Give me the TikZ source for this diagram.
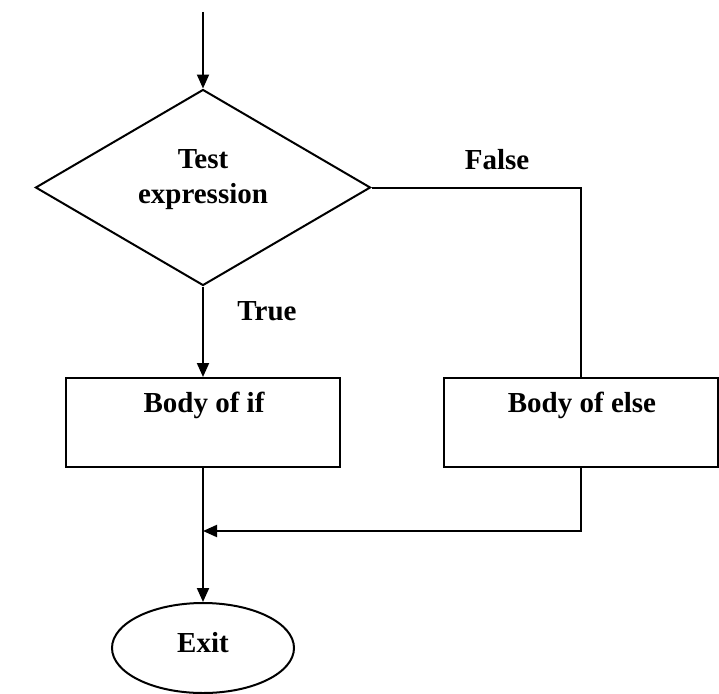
\documentclass[tikz,border=0pt]{standalone}
\usepackage{fontspec}
\setmainfont{Liberation Serif}
\usetikzlibrary{shapes.geometric,arrows.meta}
\begin{document}
\begin{tikzpicture}[x=1pt,y=-1pt,
  every node/.style={font=\bfseries\fontsize{29}{35}\selectfont},
  shapeline/.style={draw=black,line width=2pt},
  decision/.style={shapeline,diamond,minimum width=335pt,minimum height=196pt,inner sep=0pt},
  procbox/.style={shapeline,rectangle,minimum width=274pt,minimum height=89pt,inner sep=0pt},
  term/.style={shapeline,ellipse,minimum width=182pt,minimum height=90pt,inner sep=0pt},
  txt/.style={inner sep=0pt,align=center},
  conn/.style={draw=black,line width=2pt},
  arr/.style={conn,-{Triangle[length=14pt,width=12pt]}}]
\useasboundingbox (0,0) rectangle (719,693);
\fill[white] (0,0) rectangle (719,693);
% shapes
\node[decision] (test) at (203,187.5) {};
\node[txt] (testlbl) at (203,180) {Test\\expression};
\node[procbox] (ifbox) at (203,422.5) {};
\node[txt] (iflbl) at (204,405) {Body of if};
\node[procbox] (elsebox) at (580.5,422.5) {};
\node[txt] (elselbl) at (582,405) {Body of else};
\node[term] (exit) at (203,648) {};
\node[txt] (exitlbl) at (203,643) {Exit};
\node[txt] (falselbl) at (497,160) {False};
\node[txt] (truelbl) at (267,311) {True};
% connector points
\coordinate (start) at (203,12);
\coordinate (corner) at (580.5,187.5);
\coordinate (join) at (203,531);
% connectors
\draw[arr] (start) -- (test.north);
\draw[arr] (test.south) -- (ifbox.north);
\draw[conn] (test.east) -- (corner) -- (elsebox.north);
\draw[arr] (ifbox.south) -- (exit.north);
\draw[arr] (elsebox.south) |- (join);
\end{tikzpicture}
\end{document}
